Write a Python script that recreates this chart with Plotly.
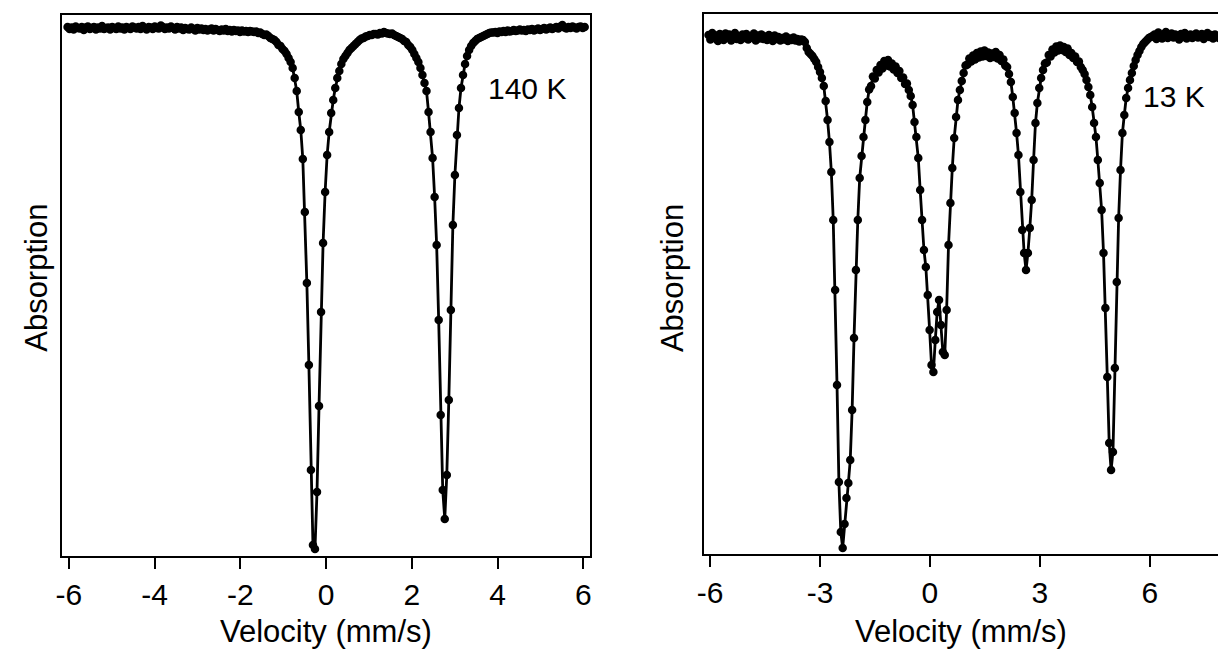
import numpy as np
import plotly.graph_objects as go

# Mossbauer spectra: relative transmission (%) per velocity channel.
# 140 K spectrum, 256 channels spanning -6.03 .. 6.03 mm/s
T140 = [
    100.02, 99.98, 100.01, 99.97, 100.03, 100.00, 99.99, 100.02, 99.96, 100.01,
    100.03, 99.98, 100.00, 100.02, 99.97, 100.01, 99.99, 100.04, 99.98, 100.00,
    100.01, 99.97, 100.02, 100.00, 99.98, 100.03, 99.99, 100.01, 99.97, 100.02,
    100.00, 99.98, 100.03, 100.01, 99.99, 100.02, 99.98, 100.04, 100.00, 99.97,
    100.02, 100.01, 99.98, 100.03, 100.00, 99.99, 100.05, 100.02, 99.98, 100.01,
    99.99, 100.03, 100.00, 99.97, 100.02, 99.99, 100.01, 99.96, 100.00, 99.98,
    99.97, 100.01, 99.98, 99.95, 100.00, 99.97, 99.99, 99.96, 99.98, 99.95,
    99.97, 99.99, 99.95, 99.98, 99.96, 99.94, 99.97, 99.95, 99.98, 99.94,
    99.96, 99.93, 99.96, 99.94, 99.95, 99.92, 99.95, 99.93, 99.94, 99.92,
    99.94, 99.93, 99.92, 99.93, 99.90, 99.91, 99.88, 99.86, 99.87, 99.84,
    99.80, 99.78, 99.76, 99.72, 99.66, 99.64, 99.58, 99.54, 99.48, 99.40,
    99.32, 99.20, 99.00, 98.74, 98.32, 97.96, 97.38, 96.32, 94.90, 93.26,
    91.16, 89.66, 89.58, 90.72, 92.44, 94.32, 95.70, 96.72, 97.46, 97.92,
    98.30, 98.56, 98.80, 99.00, 99.14, 99.28, 99.38, 99.44, 99.50, 99.56,
    99.60, 99.64, 99.68, 99.72, 99.76, 99.79, 99.80, 99.83, 99.84, 99.86,
    99.86, 99.88, 99.88, 99.87, 99.90, 99.89, 99.92, 99.90, 99.89, 99.88,
    99.89, 99.86, 99.84, 99.82, 99.80, 99.78, 99.74, 99.72, 99.66, 99.62,
    99.56, 99.48, 99.40, 99.32, 99.20, 99.06, 98.90, 98.74, 98.32, 97.92,
    97.40, 96.62, 95.66, 94.16, 92.26, 90.76, 90.18, 91.06, 92.56, 94.36,
    96.06, 97.06, 97.86, 98.40, 98.80, 99.06, 99.28, 99.44, 99.56, 99.64,
    99.70, 99.74, 99.78, 99.80, 99.82, 99.84, 99.86, 99.88, 99.90, 99.91,
    99.91, 99.92, 99.90, 99.93, 99.92, 99.94, 99.92, 99.95, 99.93, 99.94,
    99.96, 99.94, 99.95, 99.97, 99.95, 99.96, 99.94, 99.97, 99.96, 99.98,
    99.95, 99.97, 99.99, 99.96, 99.98, 100.00, 99.97, 99.99, 100.01, 99.98,
    100.00, 100.02, 99.99, 100.03, 100.06, 100.01, 99.99, 100.02, 100.00, 100.03,
    100.01, 99.99, 100.02, 100.03, 100.00, 100.02,
]
V140_START, V140_END = -6.03, 6.03

# 13 K spectrum, 272 channels starting at -6.046 mm/s, 0.0516 mm/s apart
T13 = [
    100.04, 99.95, 100.08, 99.98, 100.03, 99.92, 100.06, 100.01, 99.94, 100.07,
    99.99, 100.05, 99.93, 100.02, 100.08, 99.96, 100.01, 99.94, 100.05, 99.98,
    100.06, 99.95, 100.02, 99.99, 100.07, 99.93, 100.03, 99.97, 100.05, 99.96,
    100.01, 99.94, 100.04, 99.98, 99.92, 100.03, 99.96, 100.00, 99.93, 99.98,
    99.95, 100.01, 99.92, 99.97, 99.94, 99.99, 99.93, 99.96, 99.91, 99.95,
    99.94,
    99.90, 99.78, 99.70, 99.66, 99.62, 99.56, 99.50, 99.40, 99.30, 99.18,
    99.02, 98.72, 98.34, 97.90, 97.30, 96.34, 94.94, 93.04, 91.10, 90.10,
    89.78, 90.26, 90.78, 91.08, 91.54, 92.54, 93.98, 95.34, 96.34, 97.18,
    97.62, 98.00, 98.34, 98.70, 98.95, 99.02, 99.21, 99.17, 99.34, 99.29,
    99.44, 99.37, 99.52, 99.43, 99.54, 99.41, 99.47, 99.35, 99.41, 99.28,
    99.32, 99.18, 99.19, 99.06, 99.07, 98.94, 98.82, 98.64, 98.30, 98.00,
    97.58, 96.94, 96.34, 95.74, 95.40, 94.84, 94.14, 93.44, 93.30, 93.94,
    94.50, 94.74, 94.24, 93.70, 93.64, 94.54, 95.84, 96.68, 97.38, 97.98,
    98.40, 98.74, 98.94, 99.12, 99.28, 99.43, 99.45, 99.57, 99.51, 99.63,
    99.55, 99.68, 99.59, 99.71, 99.61, 99.73, 99.62, 99.69, 99.58, 99.67,
    99.60, 99.70, 99.57, 99.64, 99.52, 99.55, 99.43, 99.40, 99.26, 99.10,
    98.80, 98.48, 98.08, 97.64, 96.90, 96.14, 95.68, 95.34, 95.68, 96.18,
    96.74, 97.54, 98.28, 98.68, 98.98, 99.18, 99.34, 99.47, 99.49, 99.64,
    99.61, 99.75, 99.69, 99.81, 99.73, 99.83, 99.74, 99.80, 99.70, 99.77,
    99.64, 99.68, 99.58, 99.61, 99.50, 99.51, 99.40, 99.34, 99.26, 99.14,
    99.00, 98.84, 98.60, 98.28, 98.00, 97.54, 97.08, 96.54, 95.68, 94.58,
    93.20, 91.88, 91.34, 91.70, 93.38, 95.10, 96.38, 97.34, 98.08, 98.44,
    98.78, 98.98, 99.14, 99.28, 99.42, 99.54, 99.64, 99.72, 99.80, 99.86,
    99.90, 99.94, 99.98, 100.00, 100.02,
    100.05, 99.96, 100.09, 100.01, 99.97, 100.06, 100.10, 99.98, 100.04, 100.07,
    99.99, 100.05, 100.02, 99.95, 100.06, 100.00, 100.08, 99.97, 100.03, 100.05,
    99.98, 100.04, 100.07, 99.99, 100.02, 100.06, 99.96, 100.03, 100.08, 100.00,
    100.04, 99.97, 100.05, 100.02, 99.98, 100.04,
]
V13_START, V13_STEP = -6.046, 0.0516

LABELS = ["140 K", "13 K"]
X_TITLE = "Velocity (mm/s)"
Y_TITLE = "Absorption"
TICKS_140 = [-6, -4, -2, 0, 2, 4, 6]
TICKS_13 = [-6, -3, 0, 3, 6]

v140 = np.linspace(V140_START, V140_END, len(T140))
v13 = V13_START + V13_STEP * np.arange(len(T13))

W, H = 1220, 651
FONT = "Liberation Sans, Arial, Helvetica, sans-serif"

fig = go.Figure()
trace_style = dict(
    mode="lines+markers",
    line=dict(color="black", width=2.8),
    marker=dict(color="black", size=8.5),
    showlegend=False,
    cliponaxis=True,
)
fig.add_trace(go.Scatter(x=v140, y=T140, xaxis="x", yaxis="y", **trace_style))
fig.add_trace(go.Scatter(x=v13, y=T13, xaxis="x2", yaxis="y2", **trace_style))

# panel boxes in pixels: (left, right, top, bottom)
P1 = (55.7, 587.3, 14.7, 556.0)
P2 = (701.7, 1220.0, 14.0, 554.0)


def xdom(p):
    return [p[0] / W, p[1] / W]


def ydom(p):
    return [(H - p[3]) / H, (H - p[2]) / H]


def tick_text(vals):
    # plain hyphen-minus for negative numbers
    return [str(v) for v in vals]


xcommon = dict(
    showline=True, linecolor="black", linewidth=2,
    ticks="outside", ticklen=11, tickwidth=2, tickcolor="black",
    showgrid=False, zeroline=False,
    tickfont=dict(family=FONT, size=30, color="black"),
)
ycommon = dict(
    showline=True, linecolor="black", linewidth=2,
    showticklabels=False, ticks="", showgrid=False, zeroline=False,
)

fig.update_layout(
    width=W, height=H,
    margin=dict(l=0, r=0, t=0, b=0),
    paper_bgcolor="white", plot_bgcolor="white",
    showlegend=False,
    xaxis=dict(domain=xdom(P1), range=[-6.153, 6.153], tickvals=TICKS_140,
               ticktext=tick_text(TICKS_140), mirror=True, anchor="y", **xcommon),
    yaxis=dict(domain=ydom(P1), range=[89.44, 100.266], mirror=True,
               anchor="x", **ycommon),
    xaxis2=dict(domain=xdom(P2), range=[-6.1816, 7.864], tickvals=TICKS_13,
                ticktext=tick_text(TICKS_13), mirror=True, anchor="y2", **xcommon),
    yaxis2=dict(domain=ydom(P2), range=[89.66, 100.46], mirror=False,
                anchor="x2", **ycommon),
)

ann_font = dict(family=FONT, size=31, color="black")
annotations = [
    # x-axis titles
    dict(text=X_TITLE, x=(P1[0] + P1[1]) / 2 / W, y=(H - 631) / H),
    dict(text=X_TITLE, x=(P2[0] + P2[1]) / 2 / W, y=(H - 631) / H),
    # y-axis titles
    dict(text=Y_TITLE, x=29 / W, y=(H - 278) / H, textangle=-90),
    dict(text=Y_TITLE, x=670 / W, y=(H - 278) / H, textangle=-90),
    # temperature labels
    dict(text=LABELS[0], x=524 / W, y=(H - 88) / H, font=dict(family=FONT, size=30, color="black")),
    dict(text=LABELS[1], x=1176 / W, y=(H - 97) / H, font=dict(family=FONT, size=30, color="black")),
]
for a in annotations:
    a.setdefault("font", ann_font)
    a.update(xref="paper", yref="paper", showarrow=False,
             xanchor="center", yanchor="middle")
fig.update_layout(annotations=annotations)

fig.write_html("out.html")
